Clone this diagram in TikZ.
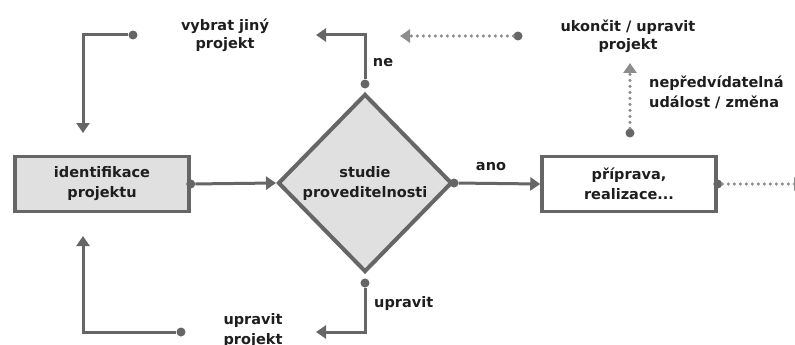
\documentclass[tikz,border=0pt]{standalone}
\usepackage{fontspec}
\setmainfont{DejaVu Sans}
\usetikzlibrary{arrows.meta,shapes.geometric}
\definecolor{linegray}{HTML}{666666}
\definecolor{dotgray}{HTML}{8C8C8C}
\definecolor{boxfill}{HTML}{E0E0E0}
\definecolor{ink}{HTML}{1E1E1E}
\tikzset{
  lbl/.style={font=\fontsize{14.5}{20}\selectfont\bfseries, text=ink, align=center, inner sep=0pt},
  tight/.style={font=\fontsize{14.5}{18}\selectfont\bfseries},
  procbox/.style={draw=linegray, line width=3.5pt, minimum width=174pt, minimum height=55pt, lbl},
  decision/.style={diamond, draw=linegray, fill=boxfill, line width=4pt, minimum width=174pt, minimum height=178pt, lbl, inner sep=0pt},
  flow/.style={draw=linegray, line width=3pt, -{Triangle[width=13pt,length=10pt]}},
  dotflow/.style={draw=dotgray, line width=3.5pt, line cap=round, dash pattern=on 0pt off 6pt, -{Triangle[width=13pt,length=10pt,line cap=butt]}},
  pin/.style={circle, fill=linegray, inner sep=0pt, minimum size=9pt},
}
\begin{document}
\begin{tikzpicture}[x=1pt,y=-1pt]
\useasboundingbox (0,0) rectangle (795,345);
\clip (0,0) rectangle (795,345);
\fill[white] (0,0) rectangle (795,345);

% main process
\node[procbox, fill=boxfill] (ident) at (102,184) {identifikace\\projektu};
\node[decision] (study) at (365,183) {studie\\proveditelnosti};
\node[procbox, fill=white] (prep) at (629,184) {příprava,\\realizace...};

% connection points
\node[pin] (identout) at (ident.east) {};
\node[pin] (studyyes) at (study.east) {};
\node[pin] (prepout) at (prep.east) {};
\node[pin] (studyno) at (365,84) {};
\node[pin] (studyfix) at (365,283) {};
\node[pin] (otherpin) at (133,35) {};
\node[pin] (fixpin) at (181,332) {};
\node[pin] (endpin) at (518,36) {};
\node[pin] (eventpin) at (630,133) {};

\coordinate (notop) at (365,35);
\coordinate (notip) at (316,35);
\coordinate (othercorner) at (83,35);
\coordinate (othertip) at (83,133);
\coordinate (fixbottom) at (365,332);
\coordinate (fixtip) at (316,332);
\coordinate (fixcorner) at (83,332);
\coordinate (fixup) at (83,236);
\coordinate (endtip) at (400,36);
\coordinate (eventtip) at (630,63);
\coordinate (nexttip) at (804,184);

% solid flows
\draw[flow] (identout) -- (study.west);
\draw[flow] (studyyes) -- (prep.west);
\draw[flow] (studyno) -- (notop) -- (notip);
\draw[flow] (otherpin) -- (othercorner) -- (othertip);
\draw[flow] (studyfix) -- (fixbottom) -- (fixtip);
\draw[flow] (fixpin) -- (fixcorner) -- (fixup);

% dotted flows
\draw[dotflow] (endpin) -- (endtip);
\draw[dotflow] (eventpin) -- (eventtip);
\draw[dotflow] (prepout) -- (nexttip);

% labels
\node[lbl, tight] (tother) at (225,35) {vybrat jiný\\projekt};
\node[lbl] (tno) at (383,63) {ne};
\node[lbl, tight] (tend) at (628,36) {ukončit / upravit\\projekt};
\node[lbl, anchor=west, align=left] (tevent) at (649,92) {nepředvídatelná\\událost / změna};
\node[lbl] (tyes) at (491,167) {ano};
\node[lbl, anchor=west] (tfix) at (374,303) {upravit};
\node[lbl] (tfixproj) at (253,331) {upravit\\projekt};
\end{tikzpicture}
\end{document}
